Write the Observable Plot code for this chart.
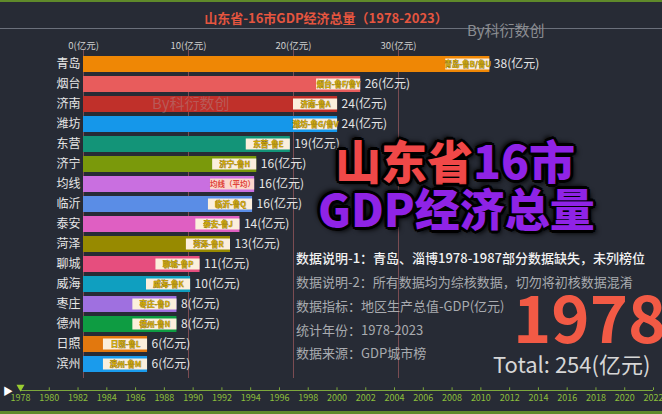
<!DOCTYPE html>
<html>
<head>
<meta charset="utf-8">
<script src="https://cdn.jsdelivr.net/npm/d3@7"></script>
<script src="https://cdn.jsdelivr.net/npm/@observablehq/plot@0.6"></script>
<style>
  html, body { margin: 0; padding: 0; background: #272b35; }
  #wrap { position: relative; width: 662px; height: 414px; overflow: hidden; background: #272b35;
          font-family: "Noto Sans CJK SC", "Noto Sans", sans-serif; }
  .abs { position: absolute; white-space: nowrap; }
  .info { font-size: 13px; line-height: 13px; color: #a9abb0; left: 296px; }
  .big { font-weight: 900; line-height: 1; letter-spacing: 0px;
         text-shadow: 0 0 2px #000, 2px 2px 0 #000, -2px -2px 0 #000, 2px -2px 0 #000, -2px 2px 0 #000,
                      0 3px 0 #000, 3px 0 0 #000, -3px 0 0 #000, 0 -3px 0 #000, 3px 3px 5px #000, -3px -3px 5px #000; }
</style>
</head>
<body>
<div id="wrap"></div>
<script>
// ---- data ----
const cities = ["青岛","烟台","济南","潍坊","东营","济宁","均线","临沂","泰安","菏泽","聊城","威海","枣庄","德州","日照","滨州"];
const barLength = [38.7, 26.4, 24.2, 24.2, 19.7, 16.5, 16.3, 16.1, 14.9, 14.0, 11.1, 10.2, 8.9, 8.9, 6.1, 6.1];
const gdpLabel = [38, 26, 24, 24, 19, 16, 16, 16, 14, 13, 11, 10, 8, 8, 6, 6];
const plates = ["青岛-鲁B/鲁U","烟台-鲁F/鲁Y","济南-鲁A","潍坊-鲁G/鲁V","东营-鲁E","济宁-鲁H","均线（平均）","临沂-鲁Q","泰安-鲁J","菏泽-鲁R","聊城-鲁P","威海-鲁K","枣庄-鲁D","德州-鲁N","日照-鲁L","滨州-鲁M"];
const barColors = ["#ef8705","#e85c5c","#c0302a","#1597ea","#139478","#7a990b","#c96fe0","#5a8de6","#df5fc2","#978a00","#e64e7e","#0f9fc0","#9f70e0","#0e9c42","#e2780e","#1a9bec"];
const xTicks = [0, 10, 20, 30];
const timelineYears = [1978,1980,1982,1984,1986,1988,1990,1992,1994,1996,1998,2000,2002,2004,2006,2008,2010,2012,2014,2016,2018,2020,2022];
const currentYear = 1978;
const total = 254;

const rows = cities.map((c, i) => ({city: c, len: barLength[i], gdp: gdpLabel[i], plate: plates[i], color: barColors[i]}));

const wrap = document.getElementById("wrap");
const font = "Noto Sans CJK SC";

// ---- main bar chart ----
const main = Plot.plot({
  width: 662, height: 414,
  marginTop: 50, marginBottom: 36, marginLeft: 83, marginRight: 54,
  style: {background: "transparent", fontFamily: font, overflow: "visible"},
  x: {domain: [0, 50], label: null},
  y: {domain: cities, paddingInner: 0.2, paddingOuter: 0.1, label: null},
  color: {type: "identity"},
  marks: [
    Plot.gridX(xTicks, {stroke: "#7b4c52", strokeOpacity: 1, strokeWidth: 1}),
    Plot.axisX(xTicks, {anchor: "top", tickSize: 0, tickPadding: 2, fontSize: 9.5, fill: "#d0d0d0",
      label: null, tickFormat: d => `${d}(亿元)`}),
    Plot.axisY({tickSize: 0, tickPadding: 3, fontSize: 12, fill: "#e6e6e6", label: null}),
    Plot.barX(rows, {x: "len", y: "city", fill: "color"}),
    Plot.barX(rows, {x1: d => d.len - 4.2, x2: "len", y: "city",
      fill: d => d.city === "均线" ? "#fbd6cb" : "#fbefdc", insetTop: 2.5, insetBottom: 2.5}),
    Plot.text(rows, {x: d => d.len - 2.1, y: "city", text: "plate", fontSize: 7.5, fontWeight: "bold",
      fill: d => d.city === "均线" ? "#e0443a" : "#cfa800",
      stroke: d => d.city === "均线" ? "none" : "#5b4a10", strokeWidth: 0.4}),
    Plot.text(rows, {x: "len", y: "city", text: d => `${d.gdp}(亿元)`, dx: 4, textAnchor: "start",
      fill: "#e6e6e6", fontSize: 12})
  ]
});
main.style.position = "absolute";
main.style.left = "0px";
main.style.top = "0px";
wrap.appendChild(main);

// ---- timeline ----
const timeline = Plot.plot({
  width: 662, height: 34,
  marginTop: 4, marginBottom: 24, marginLeft: 20, marginRight: 9,
  style: {background: "transparent", fontFamily: font, overflow: "visible"},
  x: {domain: [1978, 2022], label: null},
  y: {domain: [0, 1], axis: null},
  marks: [
    Plot.ruleY([0], {stroke: "#7da83c", strokeWidth: 1}),
    Plot.ruleX(timelineYears, {y1: 0, y2: 0.45, stroke: "#7da83c"}),
    Plot.axisX(timelineYears, {anchor: "bottom", tickSize: 0, tickPadding: 4, fontSize: 9, fill: "#8cbf3c",
      label: null, tickFormat: d => String(d)}),
    Plot.dot([currentYear], {x: d => d, y: 0.55, symbol: "triangle", r: 3, rotate: 180, fill: "#9acd32"})
  ]
});
timeline.style.position = "absolute";
timeline.style.left = "0px";
timeline.style.top = "380px";
wrap.appendChild(timeline);

// ---- decorations & texts ----
function add(html, css) {
  const d = document.createElement("div");
  d.className = "abs";
  d.innerHTML = html;
  Object.assign(d.style, css);
  wrap.appendChild(d);
  return d;
}
add("", {left: "0px", top: "0px", width: "662px", height: "2px", background: "#5f8a2a"});
add("", {left: "0px", top: "411px", width: "662px", height: "3px", background: "#5f8a2a"});
add("", {left: "0px", top: "28px", width: "662px", height: "1px", background: "#6b707b"});
add("山东省-16市GDP经济总量（1978-2023）", {left: "0px", width: "652px", textAlign: "center", top: "10px",
  fontSize: "13px", lineHeight: "16px", fontWeight: "bold", color: "#e5553f"});
add("By科衍数创", {left: "467px", top: "21px", fontSize: "15px", lineHeight: "18px", color: "#8b8d92"});
add("By科衍数创", {left: "152px", top: "94px", fontSize: "15px", lineHeight: "18px", color: "rgba(170,170,175,0.35)"});

add('<span style="color:#f04848">山东省</span><span style="color:#8f23e6">16市</span>',
  {left: "335px", top: "136px", fontSize: "46px", lineHeight: "40px", paddingTop: "3px"}).classList.add("big");
add('<span style="color:#8f23e6">GDP经济总量</span>',
  {left: "318px", top: "187px", fontSize: "45px", lineHeight: "40px", paddingTop: "1px"}).classList.add("big");

const infos = [
  "数据说明-1：青岛、淄博1978-1987部分数据缺失，未列榜位",
  "数据说明-2：所有数据均为综核数据，切勿将初核数据混淆",
  "数据指标：地区生产总值-GDP(亿元)",
  "统计年份：1978-2023",
  "数据来源：GDP城市榜"
];
const infoY = [258, 282, 306, 330, 353];
infos.forEach((t, i) => {
  const d = add(t, {top: (infoY[i] - 7) + "px"});
  d.classList.add("info");
  if (i === 0) { d.style.color = "#f2f2f2"; d.style.fontWeight = "500"; }
});

add(String(currentYear), {left: "513px", top: "290px", fontSize: "65px", lineHeight: "50px",
  fontWeight: "bold", color: "#f25a45"});
add(`Total: ${total}(亿元)`, {left: "493px", top: "353px", fontSize: "22px", lineHeight: "20px", color: "#d6d6d6"});
add("▶", {left: "3px", top: "385px", fontSize: "10px", lineHeight: "12px", color: "#ffffff"});
</script>
</body>
</html>
